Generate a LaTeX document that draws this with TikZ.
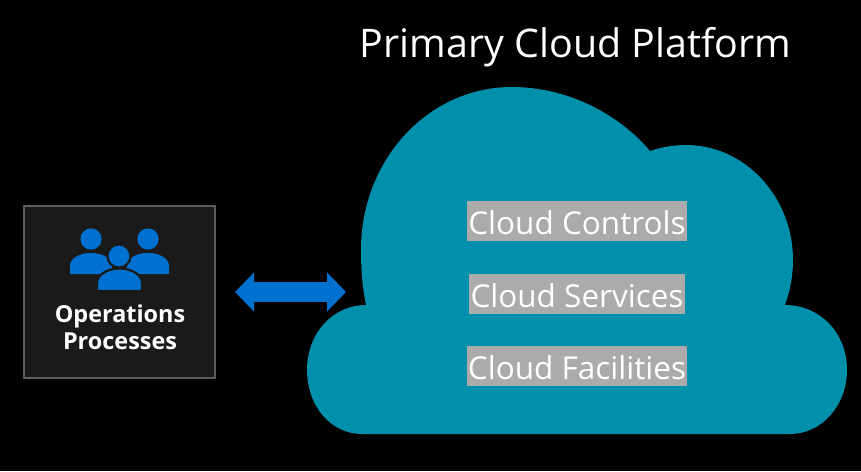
\documentclass[tikz,border=0pt]{standalone}
\usepackage{fontspec}
\setmainfont{Open Sans}
\usetikzlibrary{arrows.meta}

\definecolor{cloudteal}{HTML}{0090AB}
\definecolor{opsblue}{HTML}{0071D1}
\definecolor{boxgrey}{HTML}{1A1A1A}
\definecolor{boxline}{HTML}{5C5C5C}
\definecolor{bargrey}{HTML}{ABABAB}

\tikzset{
  bar/.style={fill=bargrey,inner sep=0,minimum height=40pt},
  bartext/.style={text=white,font=\fontsize{31.5}{38}\selectfont},
  person/.style={fill=opsblue,draw=none},
  halo/.style={fill=opsblue,draw=boxgrey,line width=2.2pt},
}

\begin{document}
\begin{tikzpicture}[x=1pt,y=-1pt]
\useasboundingbox[fill=black] (0,0) rectangle (861,471);

% cloud
\fill[cloudteal] (362,434)
  .. controls (330,434) and (307,405) .. (307,370)
  .. controls (307,333) and (333,305) .. (366,305)
  .. controls (362,285) and (361,268) .. (361,250)
  .. controls (361,160) and (428,87) .. (512,87)
  .. controls (565,87) and (617,112) .. (650,151)
  .. controls (662,147) and (674,145) .. (686,145)
  .. controls (745,145) and (793,197) .. (793,260)
  .. controls (793,276) and (790,291) .. (785,305)
  .. controls (820,305) and (847,333) .. (847,370)
  .. controls (847,405) and (822,434) .. (790,434)
  -- cycle;

\node (title) at (575.5,47) [text=white,font=\fontsize{39.4}{47}\selectfont] {Primary Cloud Platform};

\node (controls) at (577,221) [bar,minimum width=220pt] {};
\node (services) at (577,294) [bar,minimum width=216pt] {};
\node (facilities) at (577,366) [bar,minimum width=220pt] {};
\node (controlstext) at (577,222.5) [bartext] {Cloud Controls};
\node (servicestext) at (577,295.5) [bartext] {Cloud Services};
\node (facilitiestext) at (577,367.5) [bartext] {Cloud Facilities};

% operations box
\node (ops) at (119.25,292) [draw=boxline,fill=boxgrey,line width=2pt,minimum width=191.5pt,minimum height=172pt,inner sep=0] {};

% people
\fill[person] (70,274) -- (70,266) .. controls (70,258) and (80,253) .. (91,253)
  .. controls (102,253) and (112,258) .. (112,266) -- (112,274) -- cycle;
\fill[person] (127,274) -- (127,266) .. controls (127,258) and (137,253) .. (148,253)
  .. controls (159,253) and (169,258) .. (169,266) -- (169,274) -- cycle;
\fill[person] (91,239) circle[radius=10.6];
\fill[person] (148,239) circle[radius=10.6];
\draw[halo] (119,256) circle[radius=11.6];
\draw[halo] (97,291) -- (97,283) .. controls (97,275) and (107,268.5) .. (119.5,268.5)
  .. controls (132,268.5) and (142,275) .. (142,283) -- (142,291) -- cycle;
\fill[boxgrey] (94,290) rectangle (145,293);

\node (opslabel) at (120,327) [text=white,align=center,font=\fontsize{23.4}{27}\selectfont\bfseries] {Operations\\Processes};

% link
\coordinate (cloudedge) at (346,292);
\draw[opsblue,line width=20pt,shorten <=19pt,{Triangle[length=19pt,width=38pt]}-{Triangle[length=19pt,width=38pt]}] (ops.east) -- (cloudedge);

\end{tikzpicture}
\end{document}
